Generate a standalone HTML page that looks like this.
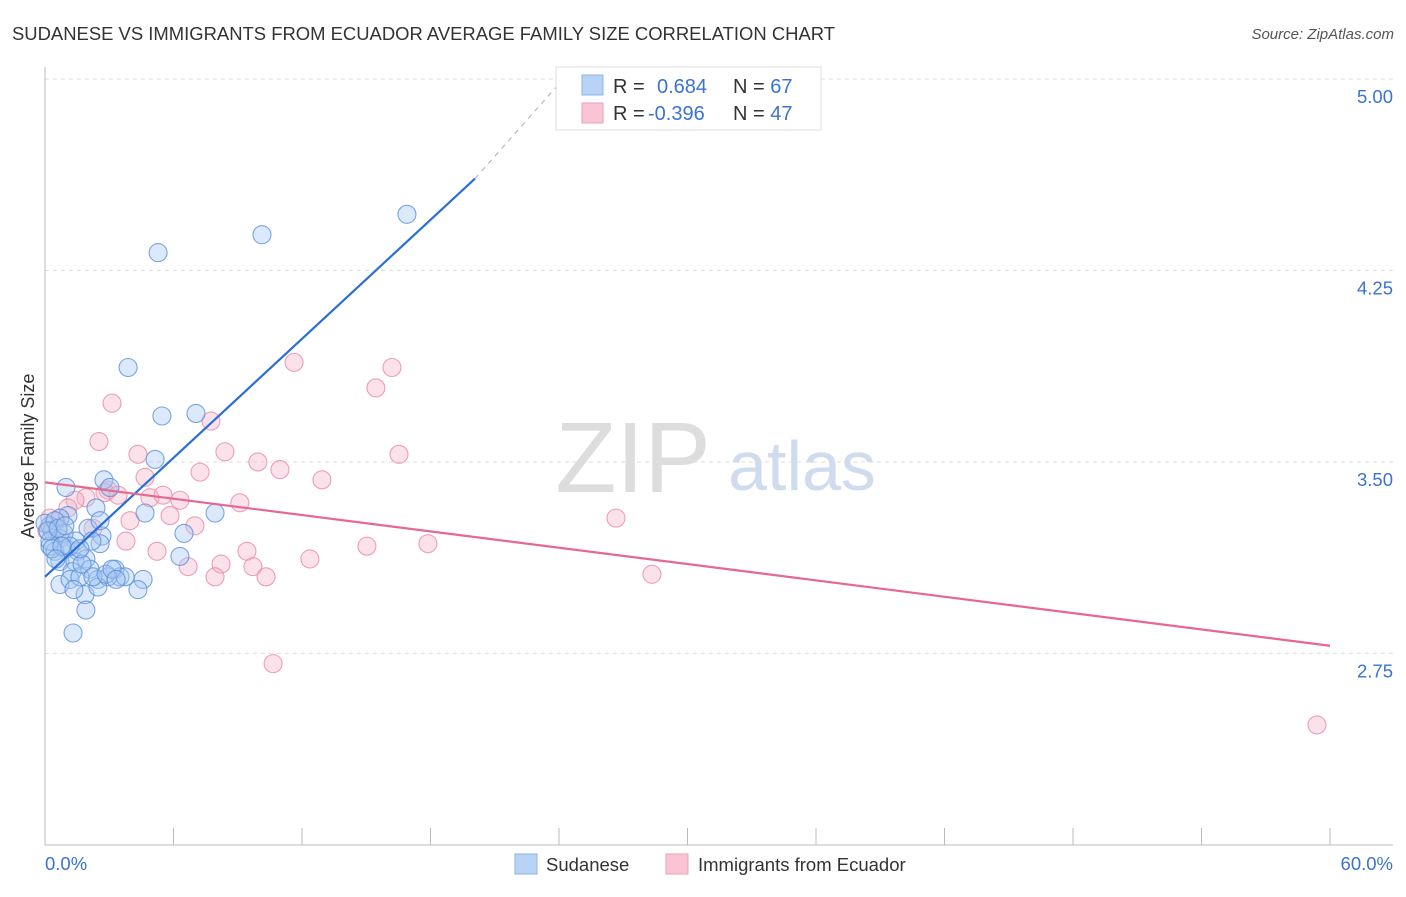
<!DOCTYPE html>
<html><head><meta charset="utf-8">
<style>
body{margin:0;background:#fff;font-family:"Liberation Sans",sans-serif;}
svg text{font-family:"Liberation Sans",sans-serif;}
</style></head>
<body>
<svg id="chart" width="1406" height="892" viewBox="0 0 1406 892">
<text x="12" y="40" font-size="18.5" fill="#333" textLength="823" lengthAdjust="spacingAndGlyphs">SUDANESE VS IMMIGRANTS FROM ECUADOR AVERAGE FAMILY SIZE CORRELATION CHART</text>
<text x="1394" y="39" font-size="15" fill="#555" font-style="italic" text-anchor="end">Source: ZipAtlas.com</text>
<g id="grid"></g>
<g id="axes"></g>
<text x="633" y="492" font-size="100" fill="#ddd" font-family="Liberation Serif" text-anchor="middle">ZIP</text>
<text x="802" y="490" font-size="70" fill="#cfdcef" text-anchor="middle">atlas</text>
<g id="marks"></g>
<text transform="translate(34,456) rotate(-90)" font-size="18" fill="#333" text-anchor="middle">Average Family Size</text>
<g>
<rect x="556" y="67" width="265" height="63" fill="#fff" stroke="#ddd"/>
<rect x="582" y="75" width="21" height="20" fill="#b9d3f6" stroke="#8fb4ea"/>
<rect x="582" y="103" width="21" height="20" fill="#f9c5d5" stroke="#ee9fb8"/>
<text x="613" y="93" font-size="20" fill="#333">R = <tspan x="657" fill="#3a73d0">0.684</tspan><tspan x="733" fill="#333">N = </tspan><tspan fill="#3a73d0">67</tspan></text>
<text x="613" y="120" font-size="20" fill="#333">R = <tspan x="648" fill="#3a73d0">-0.396</tspan><tspan x="733" fill="#333">N = </tspan><tspan fill="#3a73d0">47</tspan></text>
</g>
<g>
<rect x="515" y="854" width="22" height="20" fill="#b9d3f6" stroke="#8fb4ea"/>
<text x="546" y="871" font-size="18.5" fill="#333">Sudanese</text>
<rect x="666" y="854" width="22" height="20" fill="#f9c5d5" stroke="#ee9fb8"/>
<text x="698" y="871" font-size="18.5" fill="#333">Immigrants from Ecuador</text>
</g>
</svg>
<script>
const blueX=[5.28,10.13,16.9,3.88,5.46,7.05,5.14,0.98,2.75,3.03,4.67,7.94,2.38,1.07,0.70,0.23,0.33,2.01,2.66,6.49,0.70,1.45,2.57,0.23,0.47,0.98,1.54,6.30,0.70,1.40,1.91,3.27,1.26,2.10,3.50,3.74,4.58,0.70,1.17,1.63,2.47,2.94,4.34,1.87,2.47,1.91,1.31,0.23,0.0,0.47,0.89,1.17,1.73,2.24,2.85,0.14,0.61,0.93,0.33,2.19,1.35,3.13,3.32,0.79,0.51,2.57,1.63];
const blueY=[4.32,4.39,4.47,3.87,3.68,3.69,3.51,3.40,3.43,3.40,3.30,3.30,3.32,3.29,3.28,3.25,3.23,3.24,3.21,3.22,3.20,3.19,3.18,3.17,3.15,3.16,3.15,3.13,3.11,3.11,3.12,3.08,3.07,3.08,3.05,3.05,3.04,3.02,3.04,3.05,3.04,3.05,3.00,2.98,3.01,2.92,2.83,3.19,3.26,3.27,3.22,3.17,3.10,3.05,3.06,3.23,3.24,3.25,3.16,3.19,3.00,3.08,3.04,3.17,3.12,3.27,3.16];
const pinkX=[11.63,16.2,15.45,3.13,7.75,2.52,4.34,8.40,9.94,7.24,10.97,12.93,16.53,4.67,2.94,1.91,2.80,4.90,5.51,6.30,9.10,3.41,1.40,1.07,0.70,0.23,2.24,3.97,5.84,7.00,3.78,5.23,9.43,12.37,15.03,17.88,8.22,6.68,9.71,7.94,10.32,26.66,28.34,10.65,59.39,0.61,0.09];
const pinkY=[3.89,3.87,3.79,3.73,3.66,3.58,3.53,3.54,3.50,3.46,3.47,3.43,3.53,3.44,3.39,3.36,3.38,3.36,3.37,3.35,3.34,3.37,3.35,3.32,3.28,3.28,3.24,3.27,3.29,3.25,3.19,3.15,3.15,3.12,3.17,3.18,3.10,3.09,3.09,3.05,3.05,3.28,3.06,2.71,2.47,3.23,3.23];
const blueTrend=[[0,3.05],[20.08,4.61]];
const blueDash=[[20.08,4.61],[24.2,5.0]];
const pinkTrend=[[0,3.42],[60,2.78]];
const yTicks=[5.00,4.25,3.50,2.75];
const yTickLabels=["5.00","4.25","3.50","2.75"];
const xTicks=[0,6,12,18,24,30,36,42,48,54,60];

const NS="http://www.w3.org/2000/svg";
const sx=v=>45+v/60*1285;
const sy=v=>79+(5-v)*255.3;
function mk(tag,attrs,parent){const e=document.createElementNS(NS,tag);for(const k in attrs)e.setAttribute(k,attrs[k]);parent.appendChild(e);return e;}
const grid=document.getElementById('grid'),axes=document.getElementById('axes'),marks=document.getElementById('marks');
yTicks.forEach((t,i)=>{
  const l=mk('line',{x1:45,x2:1393,y1:sy(t),y2:sy(t),stroke:'#ddd','stroke-dasharray':'4,4'},grid);
  
  
  const tx=mk('text',{x:1393,y:sy(t)+24,'font-size':18.5,fill:'#3a73d0','text-anchor':'end'},axes);
  tx.textContent=yTickLabels[i];
  
  
});
const la=mk('line',{x1:45,x2:45,y1:67,y2:845,stroke:'#bbb'},axes);


const lb=mk('line',{x1:45,x2:1393,y1:845,y2:845,stroke:'#bbb'},axes);


xTicks.forEach(t=>{
  if(t===0)return;
  const l=mk('line',{x1:sx(t),x2:sx(t),y1:828,y2:845,stroke:'#bbb'},axes);
  
  
});
const x0=mk('text',{x:45,y:870,'font-size':18.5,fill:'#3a73d0'},axes);
x0.textContent='0.0%';


const x1=mk('text',{x:1393,y:870,'font-size':18.5,fill:'#3a73d0','text-anchor':'end'},axes);
x1.textContent='60.0%';



function dots(xs,ys,fill,stroke,name){
  xs.forEach((x,i)=>{
    const c=mk('circle',{cx:sx(x),cy:sy(ys[i]),r:9,fill:fill,'fill-opacity':0.4,stroke:stroke,'stroke-opacity':0.8,'stroke-width':1.1},marks);
    
    
  });
}
dots(pinkX,pinkY,'#f4b3c7','#e88aa8','ecuador-point');
dots(blueX,blueY,'#a7c7f2','#5a8fdc','sudanese-point');
const t1=mk('line',{x1:sx(blueTrend[0][0]),y1:sy(blueTrend[0][1]),x2:sx(blueTrend[1][0]),y2:sy(blueTrend[1][1]),stroke:'#2a6fd6','stroke-width':2.2},marks);


const t2=mk('line',{x1:sx(blueDash[0][0]),y1:sy(blueDash[0][1]),x2:sx(blueDash[1][0]),y2:sy(blueDash[1][1]),stroke:'#aac','stroke-width':1,'stroke-dasharray':'5,5'},marks);


const t3=mk('line',{x1:sx(pinkTrend[0][0]),y1:sy(pinkTrend[0][1]),x2:sx(pinkTrend[1][0]),y2:sy(pinkTrend[1][1]),stroke:'#e6688f','stroke-width':2.2},marks);


</script>
</body></html>
